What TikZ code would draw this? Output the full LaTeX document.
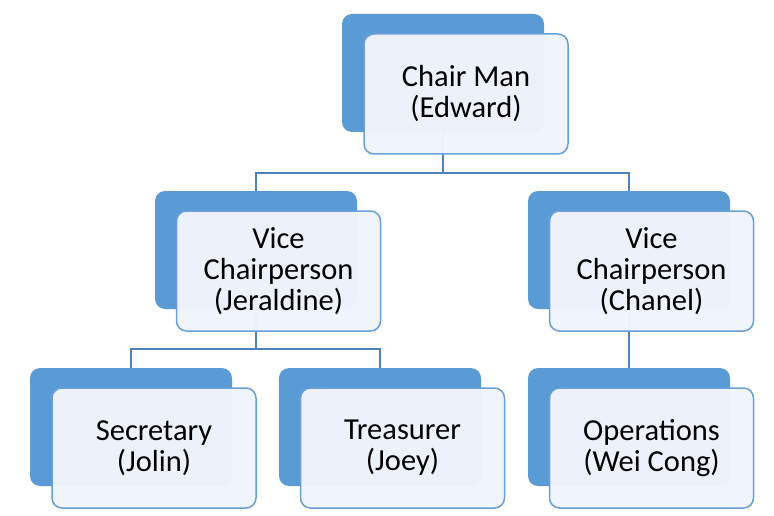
\documentclass[tikz,border=0pt]{standalone}
\usepackage{fontspec}
\setmainfont{Carlito}
\usepackage{tikz}

\definecolor{backblue}{HTML}{5B9BD5}
\definecolor{frontfill}{HTML}{F0F4FB}
\definecolor{frontline}{HTML}{6A9FD8}
\definecolor{linkblue}{HTML}{4F81BD}

\begin{document}
\begin{tikzpicture}[x=1pt, y=-1pt,
  backbox/.style={fill=backblue, rounded corners=10pt, minimum width=202pt, minimum height=118pt, inner sep=0pt},
  frontbox/.style={draw=frontline, line width=1.5pt, fill=frontfill, fill opacity=0.98, text opacity=1,
    rounded corners=10pt, minimum width=204pt, minimum height=120pt, inner sep=0pt,
    align=center, font=\fontsize{30.5}{31}\selectfont},
  link/.style={draw=linkblue, line width=1.5pt}]

\useasboundingbox (0,0) rectangle (774,516);

% back boxes
\node[backbox] (chairB) at (443,73) {};
\node[backbox] (jerB) at (256,250) {};
\node[backbox] (chaB) at (629,250) {};
\node[backbox] (secB) at (131,427) {};
\node[backbox] (treB) at (380,427) {};
\node[backbox] (opsB) at (629,427) {};

% links
\draw[link] (chairB.south) -- ++(0,41) -| (jerB.north);
\draw[link] (chairB.south) -- ++(0,41) -| (chaB.north);
\draw[link] (jerB.south) -- ++(0,40) -| (secB.north);
\draw[link] (jerB.south) -- ++(0,40) -| (treB.north);
\draw[link] (chaB.south) -- (opsB.north);

% front boxes
\node[frontbox] (chair) at (466,94) {Chair Man\\(Edward)};
\node[frontbox] (jer) at (278.5,271) {Vice\\Chairperson\\(Jeraldine)};
\node[frontbox] (cha) at (651.5,271) {Vice\\Chairperson\\(Chanel)};
\node[frontbox] (sec) at (154,448) {Secretary\\(Jolin)};
\node[frontbox] (tre) at (402.5,448) {Treasurer\\(Joey)};
\node[frontbox] (ops) at (651.5,448) {Operations\\(Wei Cong)};

\end{tikzpicture}
\end{document}
